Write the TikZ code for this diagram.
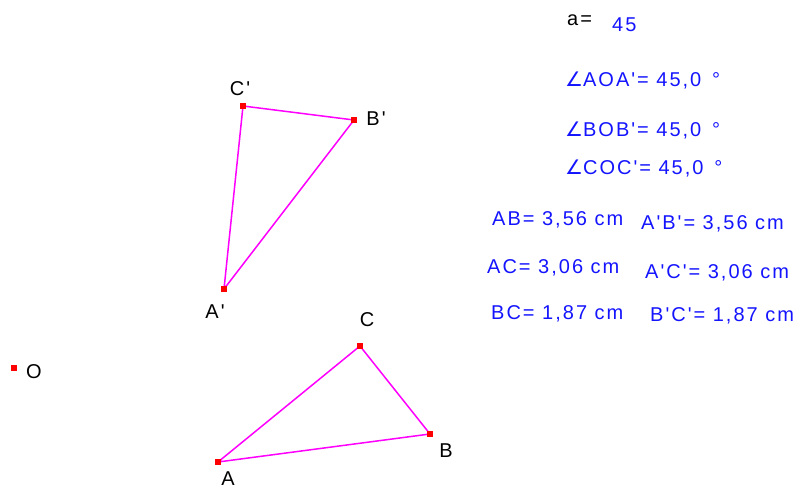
\documentclass[tikz,border=0pt]{standalone}
\usepackage{fontspec}
\newfontfamily\geofont[LetterSpace=10]{Liberation Sans}
\newfontfamily\symfont{DejaVu Sans}
\definecolor{geoblue}{RGB}{20,20,255}
\definecolor{geopink}{RGB}{255,0,255}
\tikzset{
  pt/.style={fill=red, minimum size=5.5pt, inner sep=0pt},
  lbl/.style={font=\geofont\fontsize{20}{20}\selectfont, inner sep=0pt},
  meas/.style={lbl, text=geoblue, anchor=west},
  side/.style={draw=geopink, line width=1.5pt}
}
\begin{document}
\begin{tikzpicture}[x=1pt,y=-1pt]
        \useasboundingbox (0,0) rectangle (807,489);
        % Points
        \node[pt] (O) at (14,368) {};
        \node[pt] (A) at (218,462) {};
        \node[pt] (B) at (430,434) {};
        \node[pt] (C) at (360,346) {};
        \node[pt] (Ap) at (224,289) {};
        \node[pt] (Bp) at (354,120) {};
        \node[pt] (Cp) at (243,106) {};

        % Labels
        \node[lbl] (lO) at (34,372) {O};
        \node[lbl] (lA) at (228,479) {A};
        \node[lbl] (lB) at (446,451) {B};
        \node[lbl] (lC) at (367,320) {C};
        \node[lbl] (lAp) at (215,312) {A'};
        \node[lbl] (lBp) at (376,119) {B'};
        \node[lbl] (lCp) at (240,89) {C'};

        % Triangles
        \draw[side] (A.center) -- (B.center) -- (C.center) -- (A.center);
        \draw[side] (Ap.center) -- (Bp.center) -- (Cp.center) -- (Ap.center);
        \node[pt] at (A) {};
        \node[pt] at (B) {};
        \node[pt] at (C) {};
        \node[pt] at (Ap) {};
        \node[pt] at (Bp) {};
        \node[pt] at (Cp) {};

        % Measures
        \node[lbl, anchor=west] (a) at (567,20) {a=};
        \node[meas] (aval) at (612,25) {45};
        \node[meas] (angA) at (565,80) {{\symfont\char"2220}AOA'= 45,0 \,°};
        \node[meas] (angB) at (565,130) {{\symfont\char"2220}BOB'= 45,0 \,°};
        \node[meas] (angC) at (565,168) {{\symfont\char"2220}COC'= 45,0 \,°};
        \node[meas] (ab) at (492,220) {AB= 3,56 cm};
        \node[meas] (apbp) at (641,224) {A'B'= 3,56 cm};
        \node[meas] (ac) at (487,268) {AC= 3,06 cm};
        \node[meas] (apcp) at (645,273) {A'C'= 3,06 cm};
        \node[meas] (bc) at (491,314) {BC= 1,87 cm};
        \node[meas] (bpcp) at (650,316) {B'C'= 1,87 cm};
\end{tikzpicture}
\end{document}
